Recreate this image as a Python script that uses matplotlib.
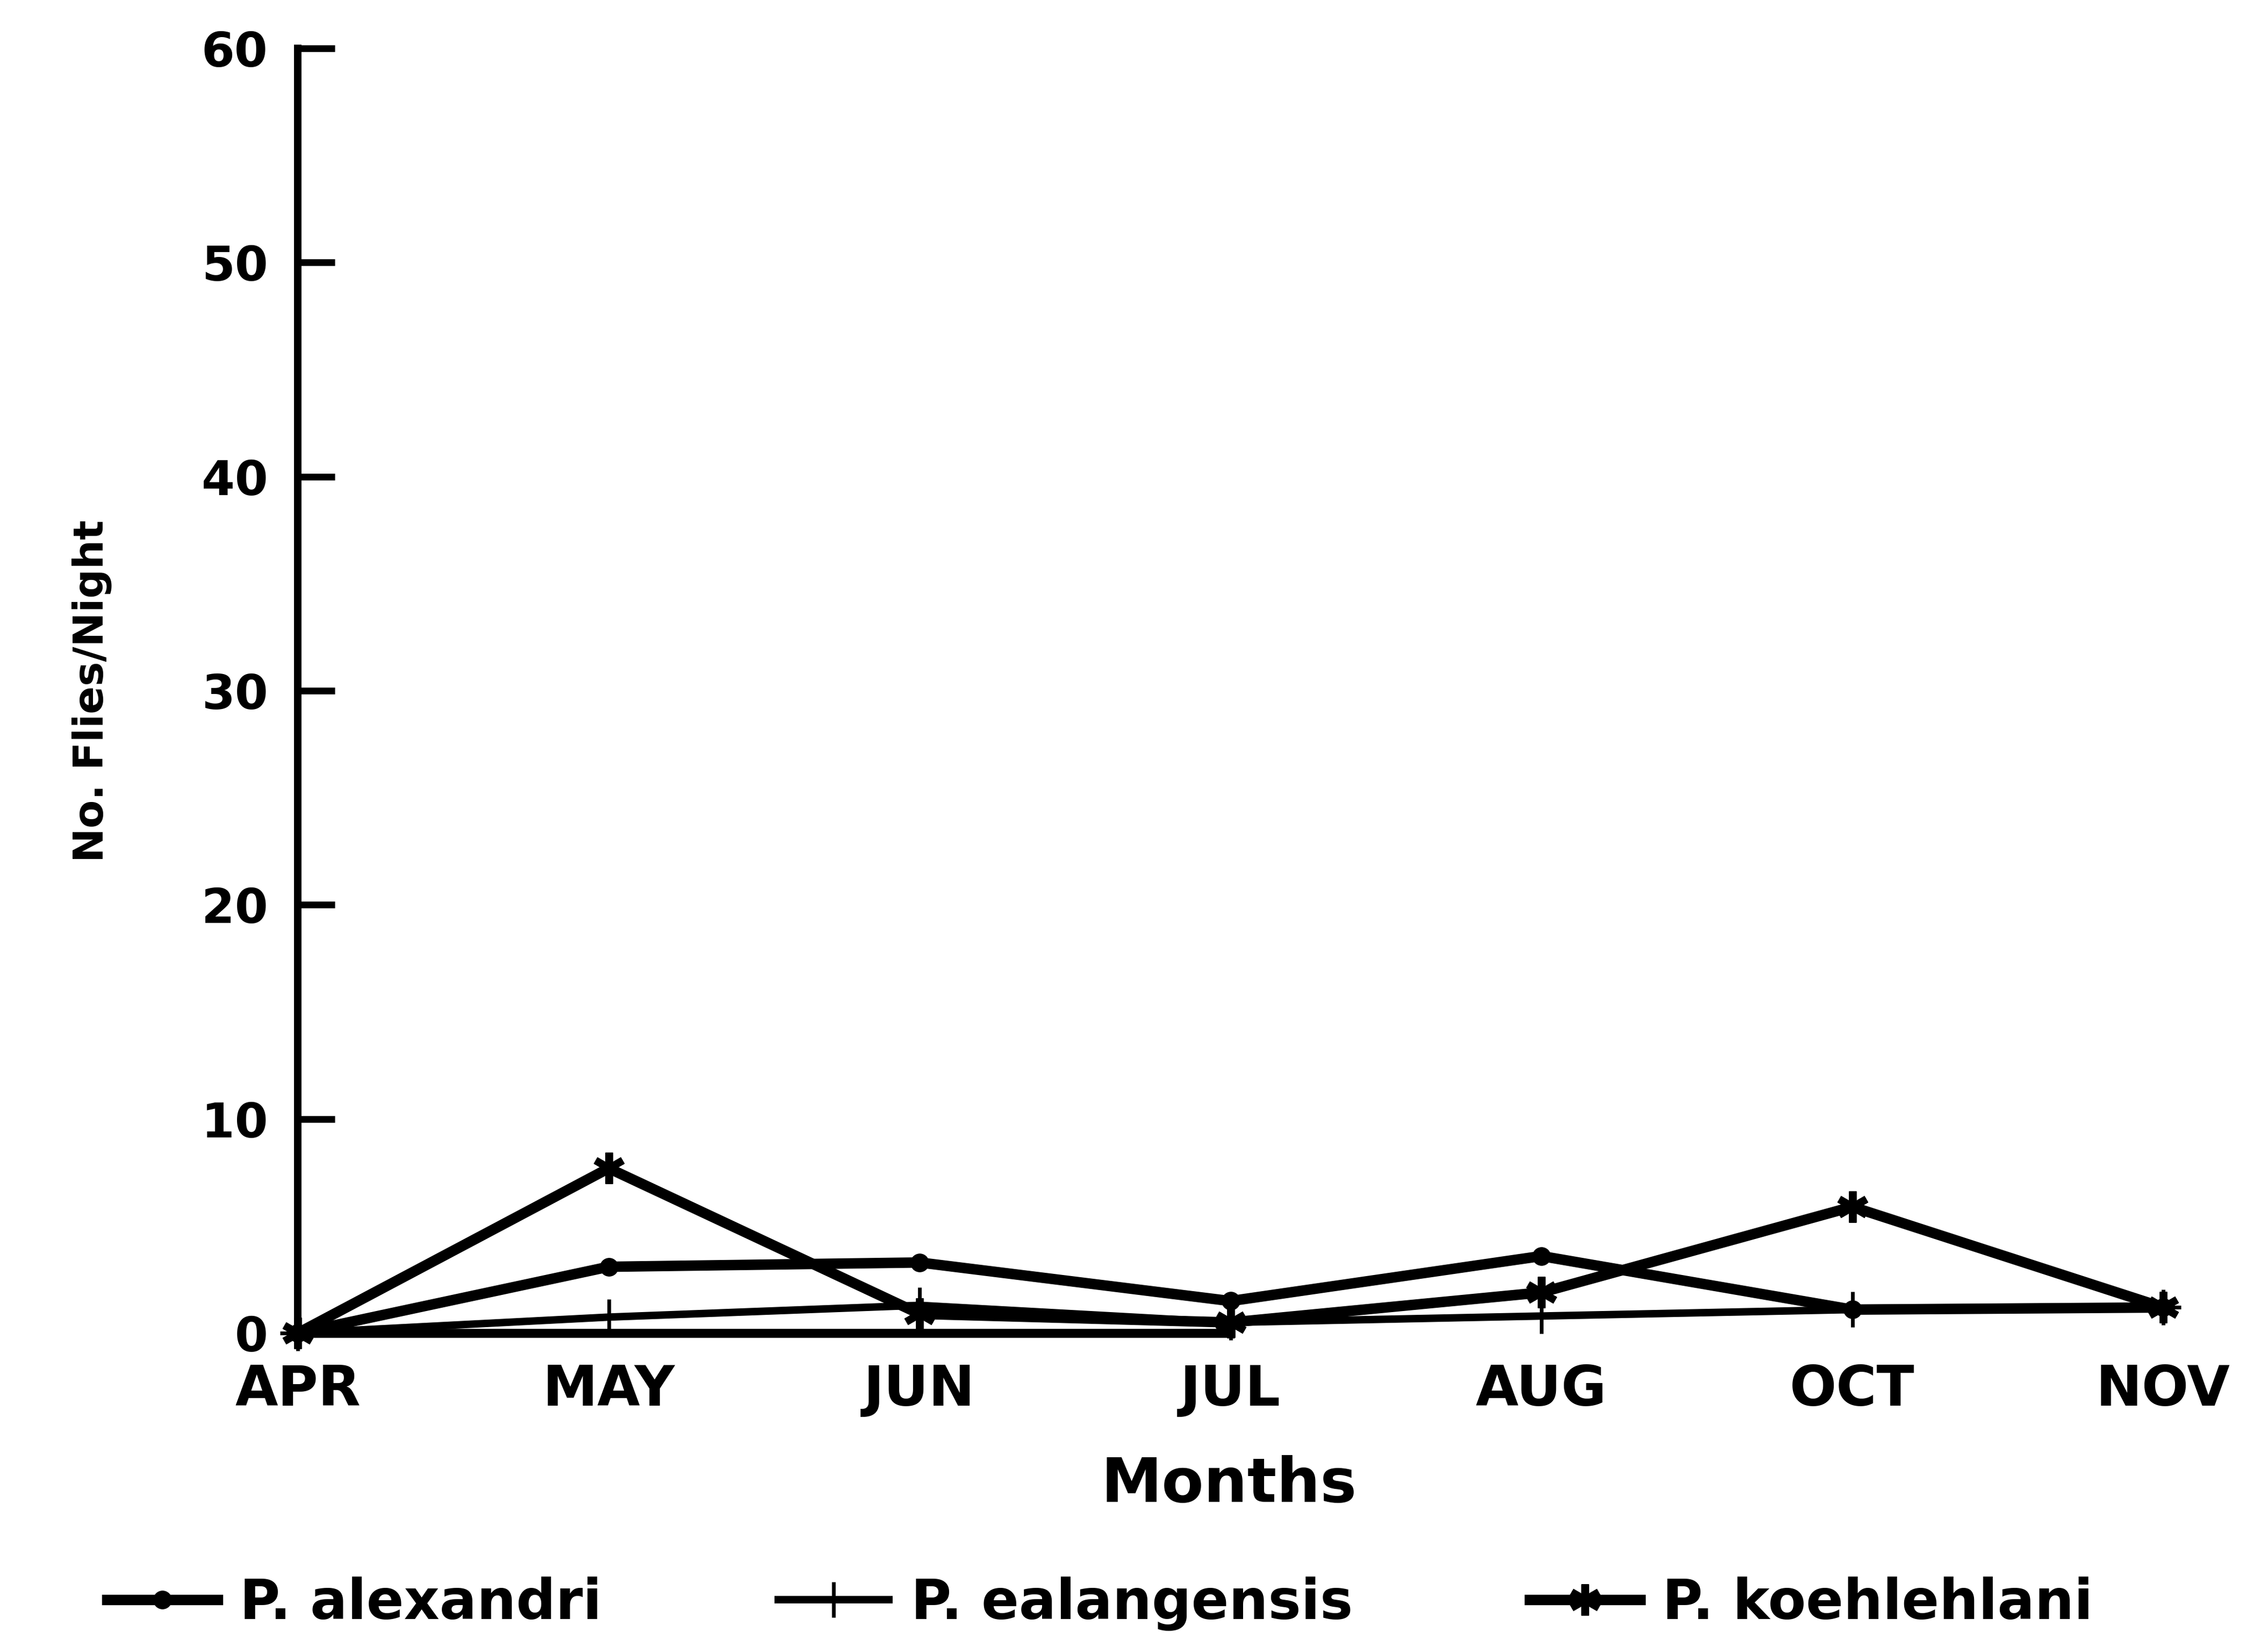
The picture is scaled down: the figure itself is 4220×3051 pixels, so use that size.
import matplotlib
matplotlib.use("Agg")
import matplotlib.pyplot as plt

# Monthly catches (flies per night) for three sandfly species
months = ["APR", "MAY", "JUN", "JUL", "AUG", "OCT", "NOV"]
alexandri = [0, 3.1, 3.3, 1.5, 3.6, 1.1, 1.2]
ealangensis = [0, 0.75, 1.3, 0.5, 0.8, 1.1, 1.2]
koehlehlani = [0, 7.7, 0.9, 0.5, 1.9, 5.9, 1.2]

series_names = ["P. alexandri", "P. ealangensis", "P. koehlehlani"]
yticks = [0, 10, 20, 30, 40, 50, 60]

plt.rcParams["font.family"] = ["DejaVu Sans"]
plt.rcParams["font.weight"] = "bold"

fig = plt.figure(figsize=(42.2, 30.51), dpi=100)
ax = fig.add_axes([0.1313, 0.1871, 0.8362, 0.7834])

x = list(range(len(months)))
h1, = ax.plot(x, alexandri, color="black", lw=14, marker="o", ms=24,
              mfc="black", mec="black", clip_on=False, zorder=3)
h2, = ax.plot(x, ealangensis, color="black", lw=10, marker="+", ms=48,
              mew=5, clip_on=False, zorder=3)
h3, = ax.plot(x, koehlehlani, color="black", lw=14, marker=(6, 2, 0), ms=42,
              mew=10, clip_on=False, zorder=3)

ax.set_xlim(0.015, 6.1)
ax.set_ylim(0, 60)

for side in ("top", "right"):
    ax.spines[side].set_visible(False)
ax.spines["left"].set_linewidth(10)
ax.spines["bottom"].set_linewidth(12)
ax.spines["bottom"].set_bounds(0, 3)

ax.set_yticks(yticks)
ax.set_yticklabels([str(v) for v in yticks])
ax.tick_params(axis="y", direction="in", length=50, width=9, pad=40,
               labelsize=64)
ax.set_xticks(x)
ax.set_xticklabels(months)
ax.tick_params(axis="x", length=0, pad=40, labelsize=74)
for lab in ax.get_xticklabels() + ax.get_yticklabels():
    lab.set_fontweight("bold")

ax.set_xlabel("Months", fontsize=82, fontweight="bold")
ax.xaxis.set_label_coords(0.491, -0.095)
ax.set_ylabel("No. Flies/Night", fontsize=55, fontweight="bold")
ax.yaxis.set_label_coords(-0.098, 0.5)

fig.legend([h1, h2, h3], series_names, ncol=3, loc="center",
           bbox_to_anchor=(0.485, 0.022), frameon=False,
           prop={"size": 74, "weight": "bold"}, handlelength=2.0,
           handletextpad=0.4, columnspacing=3.2)

fig.savefig("out.png", dpi=100, facecolor="white")
